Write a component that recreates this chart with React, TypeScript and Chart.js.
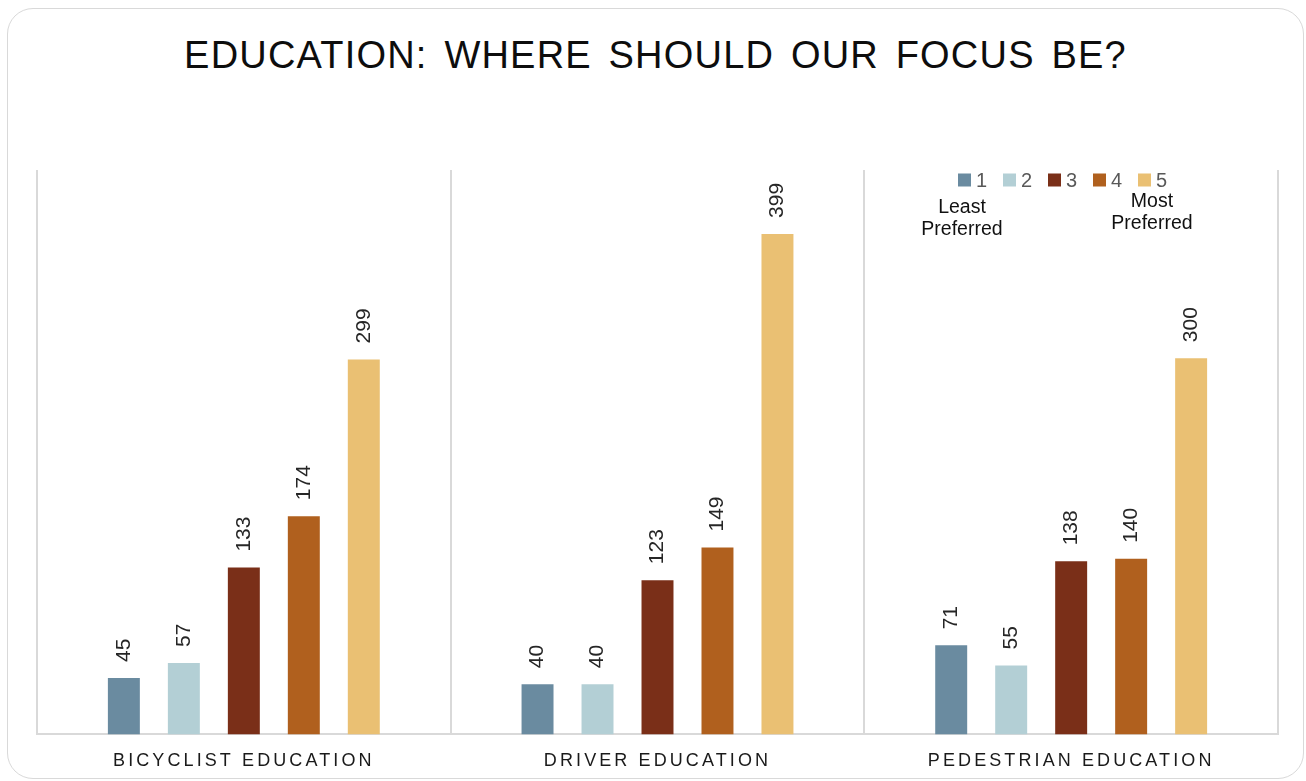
import React, { useEffect, useRef } from "react";
import { Chart, registerables } from "chart.js";

Chart.register(...registerables);

const chartTitle = "EDUCATION: WHERE SHOULD OUR FOCUS BE?";
const categories = ["BICYCLIST EDUCATION", "DRIVER EDUCATION", "PEDESTRIAN EDUCATION"];
const seriesLabels = ["1", "2", "3", "4", "5"];
const rank1 = [45, 40, 71];
const rank2 = [57, 40, 55];
const rank3 = [133, 123, 138];
const rank4 = [174, 149, 140];
const rank5 = [299, 399, 300];
const seriesColors = ["#6A8BA0", "#B3CFD5", "#7A2F18", "#B0601E", "#EAC073"];
const yMin = 0;
const yMax = 450;
const leastNote = ["Least", "Preferred"];
const mostNote = ["Most", "Preferred"];

const FONT = '"Liberation Sans", Arial, sans-serif';

const letterSpacingPlugin = {
  id: "axisLetterSpacing",
  beforeDraw(chart: any) {
    (chart.ctx as any).letterSpacing = "3.1px";
  },
  beforeDatasetsDraw(chart: any) {
    (chart.ctx as any).letterSpacing = "0px";
  },
};

const dataLabelPlugin = {
  id: "rotatedValueLabels",
  afterDatasetsDraw(chart: any) {
    const ctx = chart.ctx;
    chart.data.datasets.forEach((ds: any, di: number) => {
      const meta = chart.getDatasetMeta(di);
      meta.data.forEach((el: any, i: number) => {
        ctx.save();
        (ctx as any).letterSpacing = "0px";
        ctx.translate(el.x, el.y - 16);
        ctx.rotate(-Math.PI / 2);
        ctx.font = `21px ${FONT}`;
        ctx.fillStyle = "#262626";
        ctx.textAlign = "left";
        ctx.textBaseline = "middle";
        ctx.fillText(String(ds.data[i]), 0, 0);
        ctx.restore();
      });
    });
  },
};

const legendPlugin = {
  id: "insideLegend",
  afterDraw(chart: any) {
    const ctx = chart.ctx;
    const area = chart.chartArea;
    const startX = area.right - 320;
    const pitch = 45;
    const sqTop = area.top + 3.5;
    const sq = 13;
    ctx.save();
    (ctx as any).letterSpacing = "0px";
    chart.data.datasets.forEach((ds: any, i: number) => {
      const x = startX + i * pitch;
      ctx.fillStyle = ds.backgroundColor;
      ctx.fillRect(x, sqTop, sq, sq);
      ctx.font = `20px ${FONT}`;
      ctx.fillStyle = "#595959";
      ctx.textAlign = "left";
      ctx.textBaseline = "alphabetic";
      ctx.fillText(ds.label, x + sq + 5, sqTop + 13.5);
    });
    ctx.font = `19.5px ${FONT}`;
    ctx.fillStyle = "#111111";
    ctx.textAlign = "center";
    const leastX = startX + 4;
    const mostX = startX + 4 * pitch + 14;
    leastNote.forEach((t, i) => ctx.fillText(t, leastX, area.top + 43 + i * 22));
    mostNote.forEach((t, i) => ctx.fillText(t, mostX, area.top + 37 + i * 22));
    ctx.restore();
  },
};

export default function App() {
  const ref = useRef<HTMLCanvasElement | null>(null);

  useEffect(() => {
    if (!ref.current) return;
    const series = [rank1, rank2, rank3, rank4, rank5];
    const chart = new Chart(ref.current, {
      type: "bar",
      data: {
        labels: categories,
        datasets: series.map((d, i) => ({
          label: seriesLabels[i],
          data: d,
          backgroundColor: seriesColors[i],
          borderWidth: 0,
          categoryPercentage: 0.725,
          barPercentage: 0.533,
        })),
      },
      options: {
        responsive: false,
        animation: false,
        devicePixelRatio: 1,
        layout: { padding: { left: 37, right: 28, top: 170, bottom: 0 } },
        plugins: {
          legend: { display: false },
          title: { display: false },
          tooltip: { enabled: false },
        },
        scales: {
          x: {
            grid: { display: true, offset: true, color: "#D9D9D9", lineWidth: 2, drawTicks: false },
            border: { display: true, color: "#D9D9D9", width: 2 },
            ticks: { padding: 16, color: "#1a1a1a", font: { family: FONT, size: 18 } },
          },
          y: { display: false, min: yMin, max: yMax },
        },
      },
      plugins: [letterSpacingPlugin, dataLabelPlugin, legendPlugin],
    } as any);
    return () => chart.destroy();
  }, []);

  return (
    <div style={{ position: "fixed", left: 0, top: 0, width: 1306, height: 781, background: "#fff", overflow: "hidden" }}>
      <div
        style={{
          position: "absolute",
          left: 7,
          top: 8,
          width: 1297,
          height: 771,
          border: "1.5px solid #D9D9D9",
          borderRadius: 26,
          boxSizing: "border-box",
        }}
      />
      <div
        style={{
          position: "absolute",
          left: 7,
          top: 36,
          width: 1297,
          textAlign: "center",
          fontFamily: FONT,
          fontSize: 38,
          lineHeight: "38px",
          letterSpacing: "1.2px",
          wordSpacing: "5px",
          color: "#0d0d0d",
          whiteSpace: "nowrap",
        }}
      >
        {chartTitle}
      </div>
      <canvas ref={ref} width={1306} height={788} style={{ position: "absolute", left: 0, top: 0, width: 1306, height: 788 }} />
    </div>
  );
}
